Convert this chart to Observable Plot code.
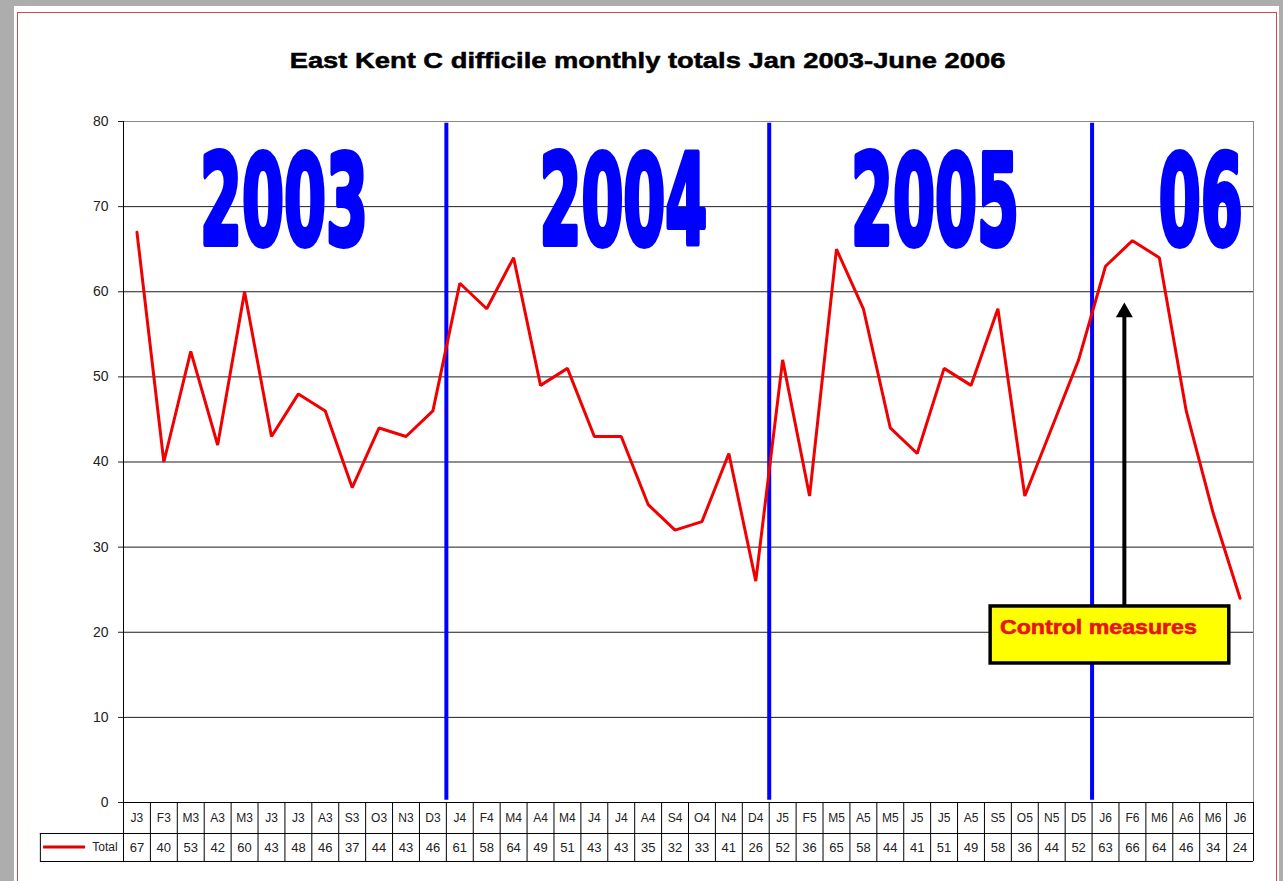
<!DOCTYPE html>
<html>
<head>
<meta charset="utf-8">
<script src="https://cdn.jsdelivr.net/npm/d3@7"></script>
<script src="https://cdn.jsdelivr.net/npm/@observablehq/plot@0.6"></script>
<style>
  html, body { margin: 0; padding: 0; }
  body { width: 1283px; height: 881px; overflow: hidden; position: relative; background: #adadad; }
  #sheet { position: absolute; left: 14px; top: 6px; width: 1265px; height: 900px; background: #fff; }
  #frame { position: absolute; left: 17px; top: 12px; width: 1260px; height: 900px; border: 1px solid #c94a4f; box-sizing: border-box; }
  #chart { position: absolute; left: 0; top: 0; }
</style>
</head>
<body>
<div id="sheet"></div>
<div id="frame"></div>
<div id="chart"></div>
<script>
// Monthly C difficile totals, Jan 2003 - Jun 2006
const months = [
  "J3","F3","M3","A3","M3","J3","J3","A3","S3","O3","N3","D3",
  "J4","F4","M4","A4","M4","J4","J4","A4","S4","O4","N4","D4",
  "J5","F5","M5","A5","M5","J5","J5","A5","S5","O5","N5","D5",
  "J6","F6","M6","A6","M6","J6"
];
const totals = [
  67, 40, 53, 42, 60, 43, 48, 46, 37, 44, 43, 46,
  61, 58, 64, 49, 51, 43, 43, 35, 32, 33, 41, 26,
  52, 36, 65, 58, 44, 41, 51, 49, 58, 36, 44, 52,
  63, 66, 64, 46, 34, 24
];
const yearNames = ["2003", "2004", "2005", "06"];
const yearStarts = [0, 12, 24, 36];
const yTicks = [0, 10, 20, 30, 40, 50, 60, 70, 80];
const seriesName = "Total";
const chartTitle = "East Kent C difficile monthly totals Jan 2003-June 2006";
const noteText = "Control measures";

const n = months.length;
const rows = months.map((m, i) => ({i, month: m, total: totals[i]}));
const mid = d => d.i + 0.5;

// table rows sit below the value axis, in y units
const rowSplit = -3.64, rowBottom = -6.93, tableLeft = -3.09;

const chart = Plot.plot({
  width: 1283,
  height: 881,
  marginLeft: 123,
  marginRight: 30,
  marginTop: 121,
  marginBottom: 79,
  style: {background: "transparent", fontFamily: "'Liberation Sans', Arial, sans-serif", fontSize: "14px", color: "#222", overflow: "visible"},
  x: {domain: [0, n], axis: null},
  y: {domain: [0, 80], ticks: yTicks, tickSize: 5, tickPadding: 10, label: null},
  marks: [
    // grid and plot frame
    Plot.ruleY(yTicks.filter(v => v > 0 && v < 80), {stroke: "#1e1e1e", strokeWidth: 1}),
    Plot.ruleY([80], {stroke: "#888"}),
    Plot.ruleX([n], {y1: 0, y2: 80, stroke: "#888"}),

    // year separators and year labels
    Plot.ruleX(yearStarts.slice(1), {y1: 0.25, y2: 79.8, stroke: "#0000ff", strokeWidth: 4}),
    Plot.text(yearNames, {
      x: [5.96, 18.57, 30.15, 40.03], y: 70.27, text: d => d,
      fontFamily: "'DejaVu Sans', sans-serif", fontWeight: "bold", fontSize: 124,
      fill: "#0000ff", stroke: "#0000ff", strokeWidth: 6
    }),

    // data table under the plot
    Plot.ruleY([rowSplit, rowBottom], {x1: tableLeft, x2: n, stroke: "#000"}),
    Plot.ruleX(d3.range(1, n + 1), {y1: 0, y2: rowBottom, stroke: "#000"}),
    Plot.ruleX([tableLeft], {y1: rowSplit, y2: rowBottom, stroke: "#000"}),
    Plot.text(rows, {x: mid, y: -1.82, text: "month", fontSize: 12, fill: "#222"}),
    Plot.text(rows, {x: mid, y: -5.29, text: d => String(d.total), fontSize: 13, fill: "#222"}),
    Plot.ruleY([-5.22], {x1: -2.97, x2: -1.41, stroke: "#e00000", strokeWidth: 3}),
    Plot.text([seriesName], {x: -0.22, y: -5.29, text: d => d, textAnchor: "end", fontSize: 12, fill: "#222"}),

    // axes lines
    Plot.ruleX([0], {y1: rowBottom, y2: 80, stroke: "#000"}),
    Plot.ruleY([0], {stroke: "#000"}),

    // the series
    Plot.line(rows, {x: mid, y: "total", stroke: "#f00000", strokeWidth: 3, strokeLinejoin: "miter"}),

    // annotation: arrow and boxed note
    Plot.ruleX([37.2], {y1: 23.0, y2: 57.6, stroke: "#000", strokeWidth: 4}),
    Plot.dot([0], {x: 37.2, y: 57.58, symbol: "triangle", r: 6.3, fill: "#000", stroke: null}),
    Plot.rect([0], {x1: 32.23, x2: 41.1, y1: 16.33, y2: 23.03, fill: "#ffff00", stroke: "#000", strokeWidth: 3.5}),
    Plot.text([noteText], {x: 32.58, y: 20.6, text: d => d, textAnchor: "start", fill: "#e8141b", fontWeight: "bold", fontSize: 20, stroke: "#e8141b", strokeWidth: 0.6}),

    // title
    Plot.text([chartTitle], {frameAnchor: "top", lineAnchor: "middle", dx: -54, dy: -61, text: d => d, fontSize: 22, fontWeight: "bold", fill: "#000", stroke: "#000", strokeWidth: 0.5})
  ]
});

document.getElementById("chart").append(chart);

// Stretch or squeeze a text element horizontally about its centre or left edge.
const svgBox = chart.getBoundingClientRect();
function stretch(node, sx, origin) {
  const b = node.getBoundingClientRect();
  const ox = (origin === "left" ? b.x : b.x + b.width / 2) - svgBox.x;
  const g = document.createElementNS("http://www.w3.org/2000/svg", "g");
  node.parentNode.insertBefore(g, node);
  g.appendChild(node);
  g.setAttribute("transform", `translate(${ox},0) scale(${sx},1) translate(${-ox},0)`);
}
const allText = d3.select(chart).selectAll("text");
const byContent = s => allText.filter(function() { return this.textContent === s; });

// big year labels: tall condensed face
const ref = byContent("2003").node().getBoundingClientRect();
const sxYear = 168 / ref.width;
yearNames.forEach(s => byContent(s).each(function() { stretch(this, sxYear, "centre"); }));

// title and note: wide heavy face
const t = byContent(chartTitle).node();
stretch(t, 716 / t.getBoundingClientRect().width, "centre");
const note = byContent(noteText).node();
stretch(note, 197 / note.getBoundingClientRect().width, "left");
</script>
</body>
</html>
